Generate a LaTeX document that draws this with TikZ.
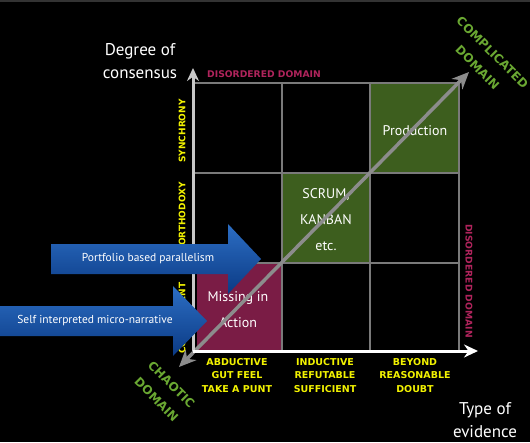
\documentclass[tikz,border=0pt]{standalone}
\usepackage{fontspec}
\setmainfont{DejaVu Sans}
\newfontfamily\handfont{PT Sans}
\usepackage{tikz}
\usetikzlibrary{arrows.meta, calc}

\definecolor{cellgreen}{HTML}{3D5E1E}
\definecolor{cellred}{HTML}{7A1C45}
\definecolor{labelred}{HTML}{B0245C}
\definecolor{labelgreen}{HTML}{6AA832}
\definecolor{labelyellow}{HTML}{F2F200}
\definecolor{gridgray}{HTML}{7A7A7A}
\definecolor{diaggray}{HTML}{8C8C8C}
\definecolor{axisgray}{HTML}{C8C8C8}
\definecolor{bluetop}{HTML}{2C6EC4}
\definecolor{bluebot}{HTML}{0B3A84}

\tikzset{
	hand/.style={text=white, align=center, inner sep=0pt, font=\handfont\fontsize{14}{26}\selectfont},
	evidence/.style={text=labelyellow, align=center, inner sep=0pt, font=\bfseries\fontsize{9.5}{13.5}\selectfont},
	agree/.style={text=labelyellow, rotate=90, inner sep=0pt, font=\bfseries\fontsize{9}{11}\selectfont},
	disorder/.style={text=labelred, inner sep=0pt, font=\bfseries\fontsize{9.2}{11}\selectfont},
	domainlabel/.style={text=labelgreen, rotate=-45, align=center, inner sep=0pt, font=\bfseries\fontsize{12}{21}\selectfont},
	bluearrow/.style={top color=bluetop, bottom color=bluebot},
	axistext/.style={text=white, align=center, inner sep=0pt, font=\handfont\fontsize{17}{23}\selectfont}
}

\begin{document}
\begin{tikzpicture}[x=1pt, y=-1pt, thick]
		% Background
		\useasboundingbox (0,0) rectangle (530,442);
		\fill[black] (0,0) rectangle (530,442);
		\draw[gray!40!black, line width=1.5pt] (0,0.75) -- (530,0.75);

		% Cells
		\fill[cellgreen] (370,83) rectangle (459,173);
		\fill[cellgreen] (282,173) rectangle (370,263);
		\fill[cellred] (197,263) rectangle (282,351);

		% Grid
		\foreach \y in {83,173,263}
			\draw[gridgray, line width=1.2pt] (193,\y) -- (459,\y);
		\foreach \x in {282,370,459}
			\draw[gridgray, line width=1.2pt] (\x,83) -- (\x,351);

		% Cell texts
		\node[hand] (production) at (415,131) {Production};
		\node[hand] (scrum) at (326,220) {SCRUM,\\KANBAN\\etc.};
		\node[hand] (missing) at (238,310) {Missing in\\Action};

		% Axes
		\coordinate (origin) at (193,351);
		\coordinate (ytip) at (193,68);
		\coordinate (xtip) at (478,351);
		\coordinate (chaos) at (179,367);
		\coordinate (order) at (469,72);
		\draw[diaggray, line width=3.5pt, {Stealth[length=17pt,width=15pt]}-{Stealth[length=17pt,width=15pt]}] (chaos) -- (order);
		\draw[axisgray, line width=3pt, -{Stealth[length=13pt,width=12pt]}] (origin) -- (ytip);
		\draw[white, line width=3pt, -{Stealth[length=14pt,width=13pt]}] (origin) -- (xtip);
		\node[axistext] (ylabel) at (140,61) {Degree of\\consensus};
		\node[axistext] (xlabel) at (485,420) {Type of\\evidence};

		% Evidence labels
		\node[evidence] (abductive) at (237,375.5) {ABDUCTIVE\\GUT FEEL\\TAKE A PUNT};
		\node[evidence] (inductive) at (325,375.5) {INDUCTIVE\\REFUTABLE\\SUFFICIENT};
		\node[evidence] (beyond) at (415,375.5) {BEYOND\\REASONABLE\\DOUBT};

		% Consensus labels
		\node[agree] (synchrony) at (182,131) {SYNCHRONY};
		\node[agree] (orthodoxy) at (182,214) {ORTHODOXY};
		\node[agree] (consentient) at (182,318) {CONSENTIENT};

		% Domains
		\node[disorder] (disordertop) at (264,74) {DISORDERED DOMAIN};
		\node[disorder, rotate=-90] (disorderright) at (469,281) {DISORDERED DOMAIN};
		\node[domainlabel] (complicated) at (485,60) {COMPLICATED\\DOMAIN};
		\node[domainlabel] (chaotic) at (164,392) {CHAOTIC\\DOMAIN};

		% Blue arrows
		\shade[bluearrow] (51,244) -- (228,244) -- (228,224) -- (261,259) -- (228,294) -- (228,274) -- (51,274) -- cycle;
		\node[text=white, font=\handfont\fontsize{11.5}{14}\selectfont] (portfolio) at (148,259) {Portfolio based parallelism};
		\shade[bluearrow] (0,306) -- (173,306) -- (173,286) -- (207,321) -- (173,356) -- (173,336) -- (0,336) -- cycle;
		\node[text=white, font=\handfont\fontsize{11.5}{14}\selectfont] (narrative) at (95,321) {Self interpreted micro-narrative};
	\end{tikzpicture}
\end{document}
